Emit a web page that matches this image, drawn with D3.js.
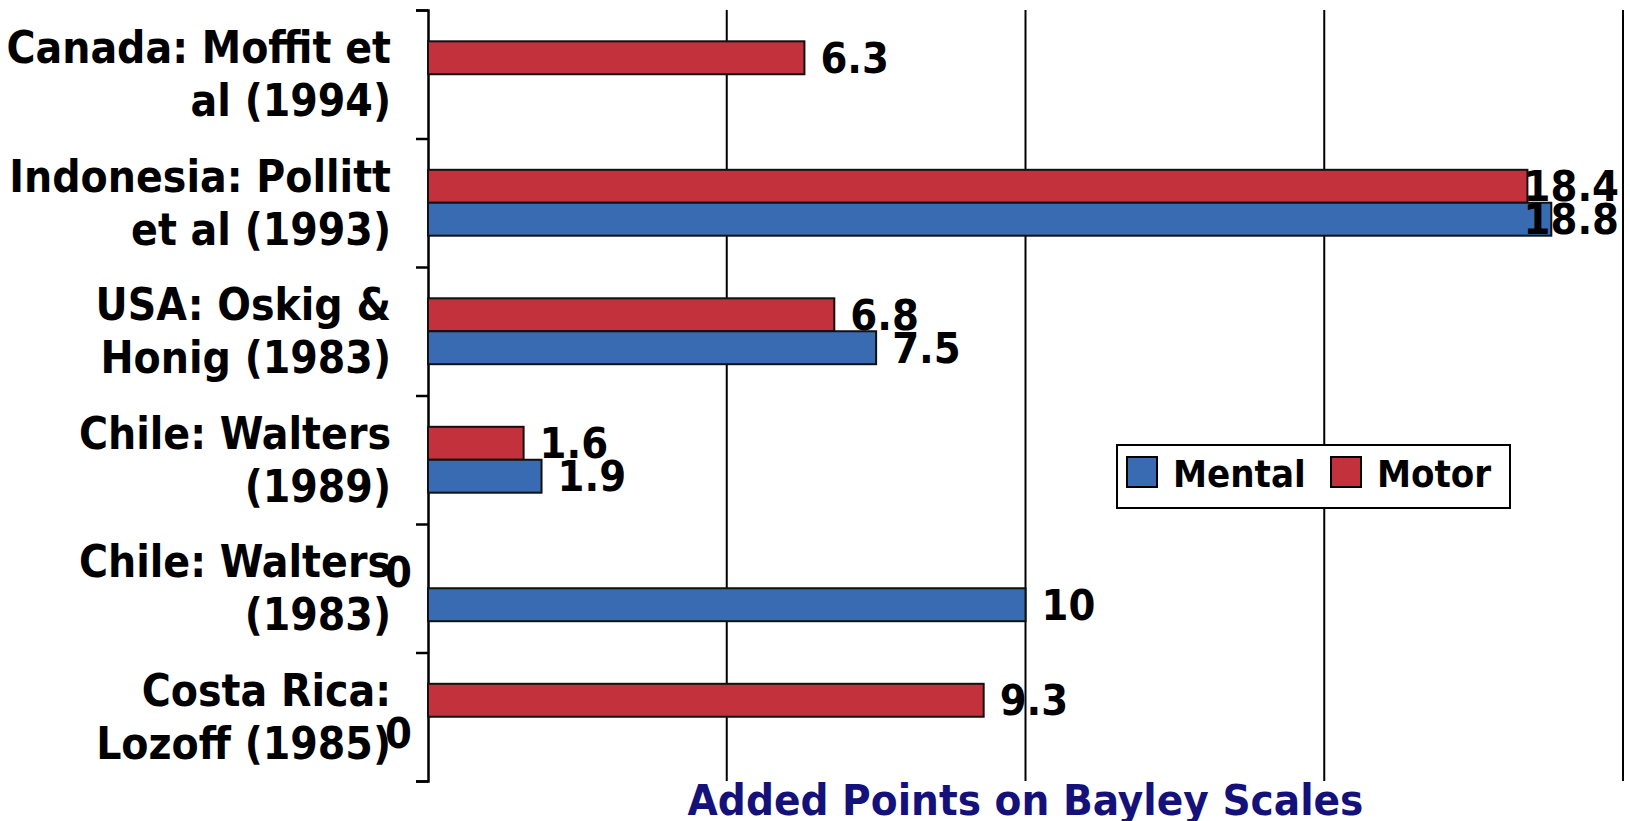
<!DOCTYPE html>
<html lang="en">
<head>
  <meta charset="UTF-8">
  <title>Added Points on Bayley Scales</title>
  <script src="https://d3js.org/d3.v7.min.js"></script>
  <style>
    body {
      margin: 0;
      padding: 0;
      background: #fff;
    }
    text {
      font-family: "DejaVu Sans Condensed", "DejaVu Sans", sans-serif;
      font-stretch: condensed;
      font-weight: bold;
    }
  </style>
</head>
<body>
  <svg id="chart" width="1630" height="821"></svg>

  <script>
    // categories, top to bottom; each label is split over two lines
    const categories = [
      "Canada: Moffit et|al (1994)",
      "Indonesia: Pollitt|et al (1993)",
      "USA: Oskig &|Honig (1983)",
      "Chile: Walters|(1989)",
      "Chile: Walters|(1983)",
      "Costa Rica:|Lozoff (1985)"
    ];
    const series = ["Motor", "Mental"];
    const legendOrder = ["Mental", "Motor"];
    // null = no bar and no label
    const motorValues = [6.3, 18.4, 6.8, 1.6, 0, 9.3];
    const mentalValues = [null, 18.8, 7.5, 1.9, 10, 0];
    const xTicks = [5, 10, 15, 20];
    const xTitle = "Added Points on Bayley Scales";

    const colors = { Motor: "#c3323c", Mental: "#396bb3" };

    const svg = d3.select("#chart");
    const x = d3.scaleLinear().domain([0, 20]).range([428, 1623]);
    const y = d3.scaleBand().domain(categories).range([10, 781]).paddingInner(0).paddingOuter(0);
    const ySub = d3.scaleBand().domain(series).range([0, y.bandwidth()]).paddingInner(0).paddingOuter(0.95);

    // vertical grid lines
    svg.append("g")
      .selectAll("line")
      .data(xTicks)
      .join("line")
      .attr("x1", d => x(d)).attr("x2", d => x(d))
      .attr("y1", 10).attr("y2", 781)
      .attr("stroke", "#000")
      .attr("stroke-width", 2);

    // y axis with ticks at the band edges
    const edge = d3.scaleLinear().domain([0, categories.length]).range(y.range());
    svg.append("g")
      .attr("transform", `translate(${x(0)},0)`)
      .call(d3.axisLeft(edge).ticks(categories.length).tickFormat("").tickSize(12).tickSizeOuter(12))
      .call(g => g.selectAll("path, line").attr("stroke", "#000").attr("stroke-width", 2.5));

    // category labels
    svg.append("g")
      .selectAll("text")
      .data(categories)
      .join("text")
      .attr("text-anchor", "end")
      .attr("font-size", 44)
      .attr("fill", "#000")
      .each(function (d) {
        const lines = d.split("|");
        const cy = y(d) + y.bandwidth() / 2;
        d3.select(this).selectAll("tspan")
          .data(lines)
          .join("tspan")
          .attr("x", 391)
          .attr("y", (l, i) => cy - 11 + i * 53)
          .text(l => l);
      });

    // bars
    const rows = [];
    categories.forEach((c, i) => {
      rows.push({ cat: c, s: "Motor", v: motorValues[i] });
      rows.push({ cat: c, s: "Mental", v: mentalValues[i] });
    });
    const shown = rows.filter(d => d.v !== null);

    svg.append("g")
      .selectAll("rect")
      .data(shown.filter(d => d.v > 0))
      .join("rect")
      .attr("x", x(0))
      .attr("y", d => y(d.cat) + ySub(d.s))
      .attr("width", d => x(d.v) - x(0))
      .attr("height", ySub.bandwidth())
      .attr("fill", d => colors[d.s])
      .attr("stroke", "#111")
      .attr("stroke-width", 2);

    // value labels
    const right = x(20) - 4;
    svg.append("g")
      .selectAll("text")
      .data(shown)
      .join("text")
      .attr("font-size", 43)
      .attr("fill", "#000")
      .attr("y", d => y(d.cat) + ySub(d.s) + ySub.bandwidth() / 2 + 15)
      .text(d => d3.format("")(d.v))
      .each(function (d) {
        const t = d3.select(this);
        const w = this.getComputedTextLength();
        if (d.v === 0) {
          t.attr("x", x(0) - 16 - w);
        } else {
          t.attr("x", Math.min(x(d.v) + 16, right - w));
        }
      });

    // legend
    const legend = svg.append("g").attr("transform", "translate(1117,445)");
    legend.append("rect")
      .attr("width", 393).attr("height", 63)
      .attr("fill", "#fff").attr("stroke", "#000").attr("stroke-width", 2);
    const item = legend.selectAll("g.item")
      .data(legendOrder)
      .join("g")
      .attr("class", "item")
      .attr("transform", (d, i) => `translate(${[10, 214][i]},0)`);
    item.append("rect")
      .attr("y", 12).attr("width", 30).attr("height", 30)
      .attr("fill", d => colors[d]).attr("stroke", "#000").attr("stroke-width", 2);
    item.append("text")
      .attr("x", 46).attr("y", 42)
      .attr("font-size", 38)
      .attr("fill", "#000")
      .text(d => d);

    // axis title
    svg.append("text")
      .attr("x", (x(0) + x(20)) / 2)
      .attr("y", 815)
      .attr("text-anchor", "middle")
      .attr("font-size", 43.5)
      .attr("fill", "#15117a")
      .text(xTitle);
  </script>
</body>
</html>
